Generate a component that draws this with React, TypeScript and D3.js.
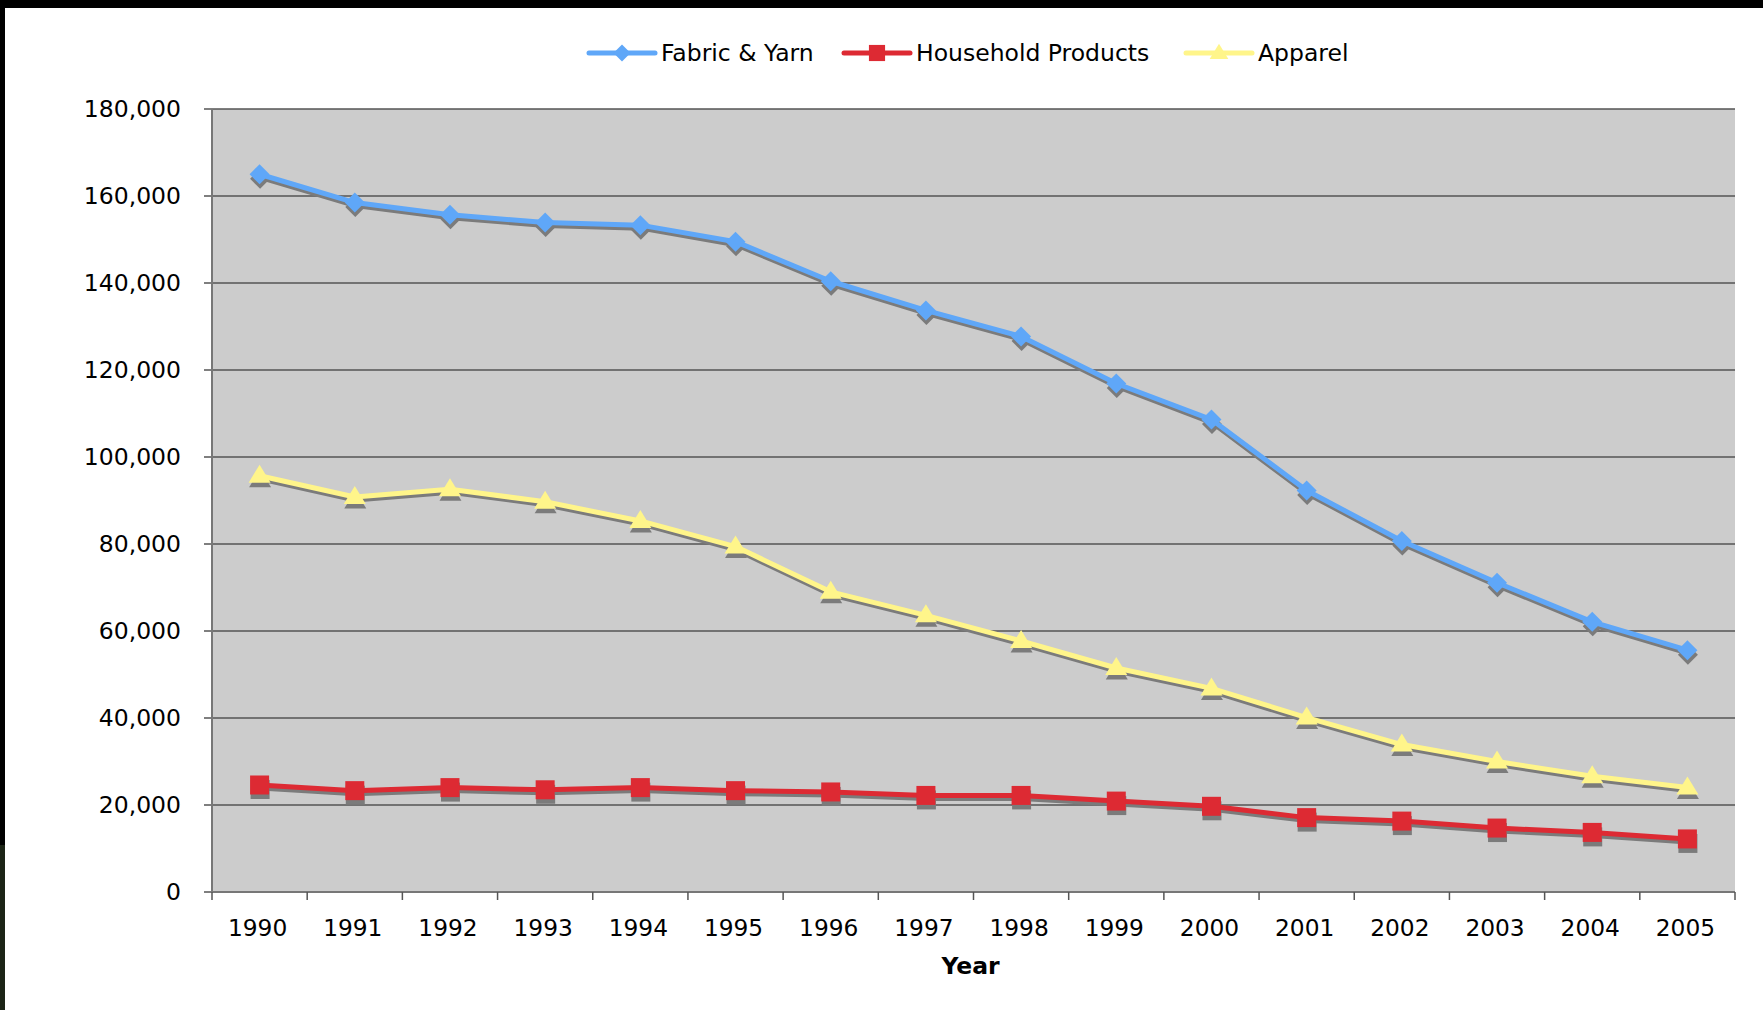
import * as React from "react";
import * as d3 from "d3";

const YEARS = [
  "1990", "1991", "1992", "1993", "1994", "1995", "1996", "1997",
  "1998", "1999", "2000", "2001", "2002", "2003", "2004", "2005",
];

const FABRIC_YARN = [
  165000, 158500, 155700, 153900, 153300, 149500, 140400, 133700,
  127700, 116900, 108600, 92300, 80700, 71100, 62100, 55600,
];

const HOUSEHOLD = [
  24600, 23300, 24000, 23500, 24000, 23300, 23000, 22200,
  22200, 20900, 19700, 17100, 16300, 14700, 13700, 12200,
];

const APPAREL = [
  95700, 90800, 92600, 89700, 85300, 79400, 69000, 63600,
  57700, 51500, 46800, 40100, 33900, 30000, 26600, 24000,
];

const Y_TICKS = [0, 20000, 40000, 60000, 80000, 100000, 120000, 140000, 160000, 180000];

type Marker = "diamond" | "square" | "triangle";

const SERIES: { name: string; values: number[]; color: string; marker: Marker; legendX: number }[] = [
  { name: "Fabric & Yarn", values: FABRIC_YARN, color: "#5fa7f8", marker: "diamond", legendX: 589 },
  { name: "Household Products", values: HOUSEHOLD, color: "#dd2a33", marker: "square", legendX: 844 },
  { name: "Apparel", values: APPAREL, color: "#fff58a", marker: "triangle", legendX: 1186 },
];

const W = 1763;
const H = 1010;
const margin = { top: 109, right: 28, bottom: 118, left: 212 };
const FONT = "'DejaVu Sans', Verdana, sans-serif";
const SHADOW = "#7b7b7b";

function markerPath(kind: Marker): string {
  if (kind === "diamond") return "M0,-10L10,0L0,10L-10,0Z";
  if (kind === "square") return "M-9.5,-9.5H9.5V9.5H-9.5Z";
  return "M0,-11L11,7H-11Z";
}

export default function App() {
  React.useEffect(() => {
    document.body.style.margin = "0";
  }, []);

  const iw = W - margin.left - margin.right;
  const ih = H - margin.top - margin.bottom;

  const x = d3.scaleBand<string>().domain(YEARS).range([0, iw]);
  const y = d3.scaleLinear().domain([0, 180000]).range([ih, 0]);
  const fmt = d3.format(",");

  const line = d3
    .line<number>()
    .x((_, i) => (x(YEARS[i]) ?? 0) + x.bandwidth() / 2)
    .y((d) => y(d));

  const boundaries = d3.range(YEARS.length + 1).map((i) => i * x.step());

  return (
    <div style={{ position: "absolute", left: 0, top: 0 }}>
      <svg width={W} height={H} style={{ display: "block", background: "#ffffff" }}>
        {/* frame remnants */}
        <rect x={0} y={0} width={W} height={8} fill="#000" />
        <rect x={0} y={0} width={5} height={845} fill="#000" />
        <rect x={0} y={845} width={5} height={H - 845} fill="#1c2416" />

        {/* legend */}
        <g fontFamily={FONT} fontSize={23.5}>
          {SERIES.map((s) => (
            <g key={s.name} transform={`translate(${s.legendX},53)`}>
              <line x1={0} x2={66} y1={0} y2={0} stroke={s.color} strokeWidth={5} strokeLinecap="round" />
              <path d={markerPath(s.marker)} transform="translate(33,0) scale(0.85)" fill={s.color} />
              <text x={72} y={0} dominantBaseline="central" fill="#000">
                {s.name}
              </text>
            </g>
          ))}
        </g>

        <g transform={`translate(${margin.left},${margin.top})`}>
          <rect x={0} y={0} width={iw} height={ih} fill="#cccccc" />

          {Y_TICKS.map((t) => (
            <g key={t} transform={`translate(0,${y(t)})`}>
              {t > 0 && <line x1={0} x2={iw} stroke="#555" strokeWidth={1.6} />}
              <line x1={-8} x2={0} stroke="#555" strokeWidth={1.5} />
              <text
                x={-31}
                y={0}
                dominantBaseline="central"
                textAnchor="end"
                fontFamily={FONT}
                fontSize={23.5}
                fill="#000"
              >
                {fmt(t)}
              </text>
            </g>
          ))}

          <line x1={0} x2={0} y1={0} y2={ih} stroke="#777" strokeWidth={2} />
          <line x1={0} x2={iw} y1={ih} y2={ih} stroke="#777" strokeWidth={2} />
          {boundaries.map((b, i) => (
            <line key={i} x1={b} x2={b} y1={ih} y2={ih + 8} stroke="#555" strokeWidth={1.5} />
          ))}

          {YEARS.map((yr) => (
            <text
              key={yr}
              x={(x(yr) ?? 0) + x.bandwidth() / 2 - 2}
              y={ih + 35}
              dominantBaseline="central"
              textAnchor="middle"
              fontFamily={FONT}
              fontSize={23.3}
              fill="#000"
            >
              {yr}
            </text>
          ))}

          {/* shadows */}
          {SERIES.map((s) => (
            <g key={`sh-${s.name}`} transform="translate(0.5,3)">
              <path d={line(s.values) ?? undefined} fill="none" stroke={SHADOW} strokeWidth={5} strokeLinejoin="round" />
              {s.values.map((v, i) => (
                <path
                  key={i}
                  d={markerPath(s.marker)}
                  transform={`translate(${(x(YEARS[i]) ?? 0) + x.bandwidth() / 2},${y(v) + 1.5})`}
                  fill={SHADOW}
                />
              ))}
            </g>
          ))}

          {SERIES.map((s) => (
            <g key={s.name}>
              <path d={line(s.values) ?? undefined} fill="none" stroke={s.color} strokeWidth={5} strokeLinejoin="round" />
              {s.values.map((v, i) => (
                <path
                  key={i}
                  d={markerPath(s.marker)}
                  transform={`translate(${(x(YEARS[i]) ?? 0) + x.bandwidth() / 2},${y(v)})`}
                  fill={s.color}
                />
              ))}
            </g>
          ))}
        </g>

        <text
          x={margin.left + iw / 2 - 3}
          y={H - 44}
          dominantBaseline="central"
          textAnchor="middle"
          fontFamily={FONT}
          fontWeight="bold"
          fontSize={23.5}
          fill="#000"
        >
          Year
        </text>
      </svg>
    </div>
  );
}
